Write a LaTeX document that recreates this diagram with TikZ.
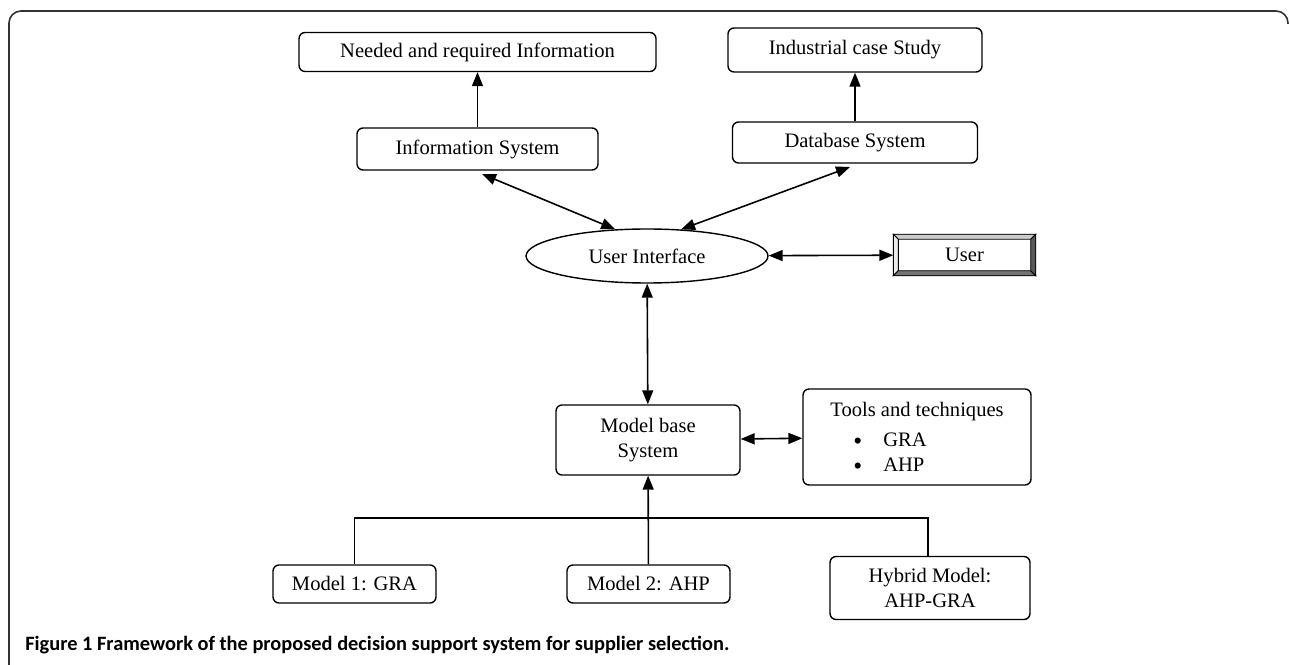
\documentclass[tikz,border=0pt]{standalone}
\usepackage{fontspec}
\setmainfont{Liberation Serif}
\newfontfamily\capfont{Carlito}
\usetikzlibrary{calc,arrows.meta,shapes.geometric}
\newcommand{\boxfont}{\fontsize{11.7}{14}\selectfont}
\newcommand{\bigdot}{\smash{\fontsize{14.5}{14}\selectfont\raisebox{-1.8pt}{\textbullet}}}
\tikzset{
	box/.style={draw, rounded corners=1.2mm, line width=0.8pt, align=center, inner sep=0pt, font=\boxfont},
	link/.style={line width=0.9pt, {Triangle[length=2.8mm,width=2.2mm]}-{Triangle[length=2.8mm,width=2.2mm]}},
	uplink/.style={line width=0.9pt, -{Triangle[length=2.8mm,width=2.2mm]}},
	bevel/.style={draw, line width=0.5pt}
}

\begin{document}
\begin{tikzpicture}[x=0.02cm, y=-0.02cm]
	%%%%% START %%%%%
	\useasboundingbox (0,0) rectangle (1290,665);
	
	\draw[line width=0.9pt, black!80, rounded corners=2.4mm] (9,670) -- (9,11) -- (1288,11) -- (1288,24);
	
	% top row
	\node[box, minimum width=7.14cm, minimum height=0.78cm] (need) at (477.5,52) {Needed and required Information};
	\node[box, minimum width=5.08cm, minimum height=0.88cm] (case) at (855,50) {Industrial case Study};
	
	\node[box, minimum width=4.82cm, minimum height=0.84cm] (info) at (477.5,149) {Information System};
	\node[box, minimum width=4.9cm, minimum height=0.82cm] (db) at (855,142.5) {Database System};
	
	\draw[uplink] (info) -- (need);
	\draw[uplink] (db) -- (case);
	
	% user interface
	\node[draw, ellipse, line width=0.8pt, inner sep=0pt, minimum width=4.84cm, minimum height=1.08cm, font=\boxfont] (ui) at (647,256) {User Interface};
	
	\node[draw, line width=0.8pt, minimum width=2.82cm, minimum height=0.8cm, inner sep=0pt] (user) at (964.5,255) {};
	\fill[bevel, fill=black!20] (user.north west) -- (user.north east) -- ($(user.north east)+(-1mm,-1mm)$) -- ($(user.north west)+(1mm,-1mm)$) -- cycle;
	\fill[bevel, fill=black!8] (user.north west) -- ($(user.north west)+(1mm,-1mm)$) -- ($(user.south west)+(1mm,1mm)$) -- (user.south west) -- cycle;
	\fill[bevel, fill=black!55] (user.south west) -- ($(user.south west)+(1mm,1mm)$) -- ($(user.south east)+(-1mm,1mm)$) -- (user.south east) -- cycle;
	\fill[bevel, fill=black!65] (user.north east) -- ($(user.north east)+(-1mm,-1mm)$) -- ($(user.south east)+(-1mm,1mm)$) -- (user.south east) -- cycle;
	\node[font=\boxfont] (usertext) at (user) {User};
	
	\coordinate (infoend) at (482,174);
	\coordinate (dbend) at (850,167);
	\draw[link] (infoend) -- (ui.140);
	\draw[link] (dbend) -- (ui.38);
	\draw[link] (ui) -- (user);
	
	% model base
	\node[box, minimum width=3.68cm, minimum height=1.4cm] (mbase) at (648,440) {Model base\\System};
	\node[box, minimum width=4.56cm, minimum height=1.92cm, align=left] (tools) at (917,437) {Tools and techniques\\[3pt]\hspace*{0.46cm}\bigdot\hspace{0.42cm}GRA\\\hspace*{0.46cm}\bigdot\hspace{0.42cm}AHP};
	
	\draw[link] (ui) -- (mbase);
	\draw[link] (mbase) -- (tools);
	
	% models
	\node[box, minimum width=3.26cm, minimum height=0.76cm] (m1) at (354.5,584) {Model 1: GRA};
	\node[box, minimum width=3.26cm, minimum height=0.76cm] (m2) at (648.5,584) {Model 2: AHP};
	\node[box, minimum width=4.0cm, minimum height=1.26cm] (hyb) at (930,588) {Hybrid Model:\\AHP-GRA};
	
	\coordinate (bar) at (648,518);
	\draw[line width=0.9pt] (m1.north) |- (bar) -| (928,557);
	\draw[uplink] (m2) -- (mbase);
	
	\node[anchor=west, inner sep=0pt, font=\capfont\fontsize{11.6}{13}\selectfont\bfseries] (cap) at (25,645) {Figure 1 Framework of the proposed decision support system for supplier selection.};
	%%%%% END %%%%%
\end{tikzpicture}
\end{document}
